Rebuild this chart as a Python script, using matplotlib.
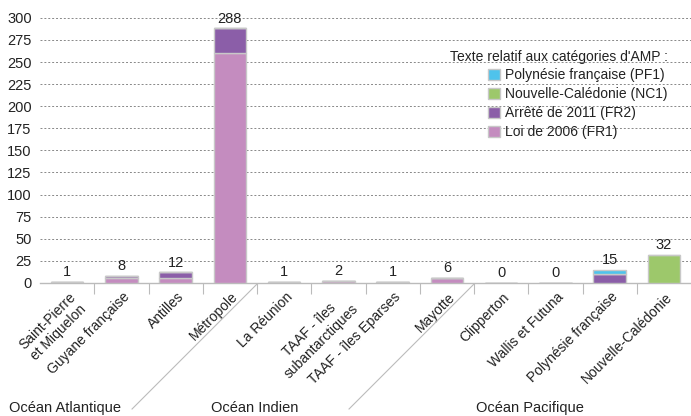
import numpy as np
import matplotlib
matplotlib.use("Agg")
import matplotlib.pyplot as plt
import matplotlib.transforms as mtransforms
from matplotlib.lines import Line2D

plt.rcParams["font.family"] = ["Liberation Sans", "DejaVu Sans"]
plt.rcParams["font.size"] = 10

categories = ["Saint-Pierre\net Miquelon", "Guyane française", "Antilles", "Métropole",
              "La Réunion", "TAAF - îles\nsubantarctiques", "TAAF - îles Eparses", "Mayotte",
              "Clipperton", "Wallis et Futuna", "Polynésie française", "Nouvelle-Calédonie"]
fr1 = [1, 5, 6, 260, 1, 2, 1, 6, 0, 0, 0, 0]      # Loi de 2006 (FR1)
fr2 = [0, 3, 6, 28, 0, 0, 0, 0, 0, 0, 10, 0]      # Arrêté de 2011 (FR2)
nc1 = [0, 0, 0, 0, 0, 0, 0, 0, 0, 0, 0, 32]       # Nouvelle-Calédonie (NC1)
pf1 = [0, 0, 0, 0, 0, 0, 0, 0, 0, 0, 5, 0]        # Polynésie française (PF1)
totals = [1, 8, 12, 288, 1, 2, 1, 6, 0, 0, 15, 32]
groups = ["Océan Atlantique", "Océan Indien", "Océan Pacifique"]

c_fr1 = "#c48cbf"
c_fr2 = "#8b5ea8"
c_nc1 = "#9dc86b"
c_pf1 = "#4fc3ec"
edge = "#c8c8c8"
txt = "#222222"

fig = plt.figure(figsize=(6.91, 4.16), dpi=100)
ax = fig.add_axes([0.058, 0.32, 0.942, 0.637])

x = np.arange(len(categories))
w = 0.6
b = np.zeros(len(x))
handles = []
for vals, col, lab in [(fr1, c_fr1, "Loi de 2006 (FR1)"), (fr2, c_fr2, "Arrêté de 2011 (FR2)"),
                       (nc1, c_nc1, "Nouvelle-Calédonie (NC1)"), (pf1, c_pf1, "Polynésie française (PF1)")]:
    v = np.array(vals, dtype=float)
    h = ax.bar(x, v, w, bottom=b, color=col, edgecolor=edge, linewidth=1.0, label=lab, zorder=3)
    handles.append(h)
    b += v

for xi, t in zip(x, totals):
    ax.text(xi, t + 3, str(t), ha="center", va="bottom", fontsize=10.5, color=txt, zorder=4)

ax.set_xlim(-0.5, len(x) - 0.5)
ax.set_ylim(0, 300)
ax.set_yticks(np.arange(0, 301, 25))
ax.yaxis.grid(True, linestyle=(0, (2, 2)), color="#888888", linewidth=0.7, zorder=0)
ax.tick_params(axis="y", length=0, labelsize=10.5, colors=txt, pad=6)
for s in ["left", "right", "top"]:
    ax.spines[s].set_visible(False)
ax.spines["bottom"].set_color("#bbbbbb")
ax.spines["bottom"].set_linewidth(1.0)

# category separators below the axis
ax.set_xticks(np.arange(0.5, len(x) - 0.5, 1.0), minor=False)
ax.tick_params(axis="x", which="major", length=8, color="#bbbbbb", labelbottom=False)
ax.set_xticks(x, minor=True)
ax.set_xticklabels(categories, minor=True)
ax.tick_params(axis="x", which="minor", length=0, labelsize=10, colors=txt, pad=5)
offset = mtransforms.ScaledTranslation(1 / 100, 0, fig.dpi_scale_trans)
for lbl in ax.get_xticklabels(minor=True):
    lbl.set_rotation(45)
    lbl.set_ha("right")
    lbl.set_va("top")
    lbl.set_rotation_mode("anchor")
    lbl.set_multialignment("center")
    lbl.set_transform(lbl.get_transform() + offset)

# diagonal group separators
for xb in [3.5, 7.5]:
    x0 = ax.transData.transform((xb, 0))[0]
    pts = fig.transFigure.inverted().transform([(x0, 416 - 284), (x0 - 125, 416 - 409)])
    fig.add_artist(Line2D(pts[:, 0], pts[:, 1], color="#bbbbbb", linewidth=0.8, zorder=5))

group_x = [65, 255, 530]
for gx, g in zip(group_x, groups):
    fig.text(gx / 691, 1 - 408 / 416, g, ha="center", va="center", fontsize=10.5, color=txt)

leg = ax.legend(handles[::-1], [h.get_label() for h in handles[::-1]],
                title="Texte relatif aux catégories d'AMP :", loc="upper right",
                bbox_to_anchor=(673 / 691, 1 - 44 / 416), bbox_transform=fig.transFigure,
                frameon=False, fontsize=10, title_fontsize=10, handlelength=0.85, handleheight=0.85,
                handletextpad=0.35, labelspacing=0.35, borderaxespad=0, alignment="right")
for t in leg.get_texts():
    t.set_color(txt)
leg.get_title().set_color(txt)
for p in leg.get_patches():
    p.set_edgecolor(edge)

fig.savefig("out.png", dpi=100)
